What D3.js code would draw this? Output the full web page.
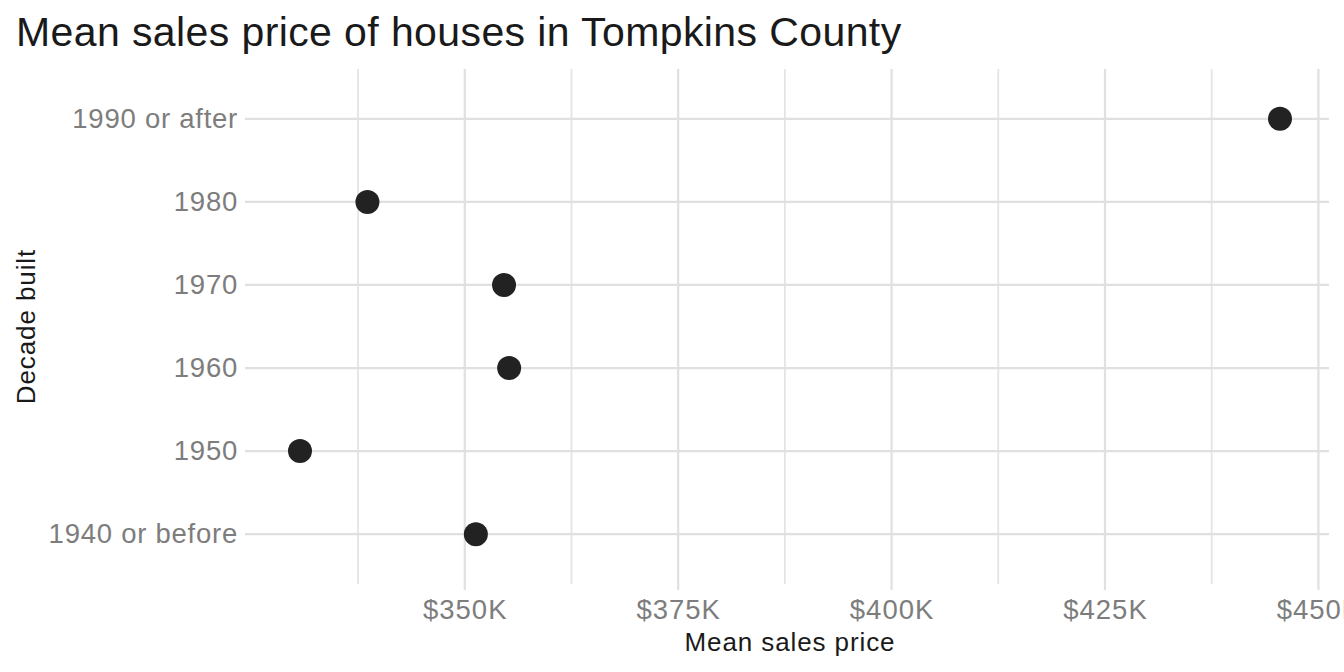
<!DOCTYPE html>
<html>
<head>
<meta charset="utf-8">
<script src="https://cdn.jsdelivr.net/npm/d3@7"></script>
<style>
  body { margin: 0; background: #fff; }
  svg text { font-family: "Liberation Sans", Arial, sans-serif; }
</style>
</head>
<body>
<svg id="chart" width="1344" height="672"></svg>
<script>
// decade built, bottom to top as drawn
decades = ["1940 or before", "1950", "1960", "1970", "1980", "1990 or after"]
// mean sales price in dollars
mean_price = [351300, 330700, 355200, 354600, 338600, 445500]
price_ticks = [350000, 375000, 400000, 425000, 450000]
minor_ticks = [337500, 362500, 387500, 412500, 437500]

width = 1344
height = 672
margin = {top: 69, right: 15, bottom: 88, left: 251}

svg = d3.select("#chart")

lo = d3.min(mean_price)
hi = d3.max(mean_price)
pad = (hi - lo) * 0.05

x = d3.scaleLinear().domain([lo - pad, hi + pad]).range([margin.left, width - margin.right])
y = d3.scalePoint().domain(decades).range([height - margin.bottom, margin.top]).padding(0.6)

grid = svg.append("g").attr("id", "grid")

// minor vertical lines
grid.selectAll(".minor").data(minor_ticks).join("line").attr("class", "minor")
  .attr("x1", d => x(d)).attr("x2", d => x(d))
  .attr("y1", margin.top).attr("y2", height - margin.bottom)
  .attr("stroke", "#e4e4e4").attr("stroke-width", 1.8)

// major vertical lines, ticks run a little past the panel
grid.selectAll(".major").data(price_ticks).join("line").attr("class", "major")
  .attr("x1", d => x(d)).attr("x2", d => x(d))
  .attr("y1", margin.top).attr("y2", height - margin.bottom + 6)
  .attr("stroke", "#e0e0e0").attr("stroke-width", 2.2)

// horizontal lines
grid.selectAll(".hline").data(decades).join("line").attr("class", "hline")
  .attr("x1", margin.left - 6).attr("x2", width - margin.right)
  .attr("y1", d => y(d)).attr("y2", d => y(d))
  .attr("stroke", "#e0e0e0").attr("stroke-width", 2.2)

// axes with library, then styled like ggplot minimal
xAxis = d3.axisBottom(x).tickValues(price_ticks).tickSize(0).tickPadding(15)
  .tickFormat(d => "$" + d3.format(",.0f")(d / 1000) + "K")
gx = svg.append("g").attr("transform", "translate(0," + (height - margin.bottom) + ")").call(xAxis)
gx.select(".domain").remove()
gx.selectAll("text").attr("font-size", 27.5).attr("fill", "#7d7d7d")
  .attr("letter-spacing", 1)
  .attr("font-family", "Liberation Sans, Arial, sans-serif")

yAxis = d3.axisLeft(y).tickSize(0).tickPadding(13)
gy = svg.append("g").attr("transform", "translate(" + margin.left + ",0)").call(yAxis)
gy.select(".domain").remove()
gy.selectAll("text").attr("font-size", 27.5).attr("fill", "#7d7d7d")
  .attr("letter-spacing", 0.75)
  .attr("font-family", "Liberation Sans, Arial, sans-serif")

// points
svg.append("g").selectAll("circle").data(decades).join("circle")
  .attr("cx", (d, i) => x(mean_price[i]))
  .attr("cy", d => y(d))
  .attr("r", 12)
  .attr("fill", "#222222")

// titles
svg.append("text").attr("x", 16).attr("y", 46)
  .attr("font-size", 41).attr("fill", "#1a1a1a").attr("letter-spacing", 0.4)
  .text("Mean sales price of houses in Tompkins County")

svg.append("text")
  .attr("x", (margin.left + width - margin.right) / 2).attr("y", 651)
  .attr("text-anchor", "middle").attr("font-size", 26).attr("fill", "#1a1a1a")
  .attr("letter-spacing", 0.9)
  .text("Mean sales price")

svg.append("text")
  .attr("transform", "translate(35," + ((margin.top + height - margin.bottom) / 2) + ") rotate(-90)")
  .attr("text-anchor", "middle").attr("font-size", 26).attr("fill", "#1a1a1a")
  .attr("letter-spacing", 0.9)
  .text("Decade built")
</script>
</body>
</html>
